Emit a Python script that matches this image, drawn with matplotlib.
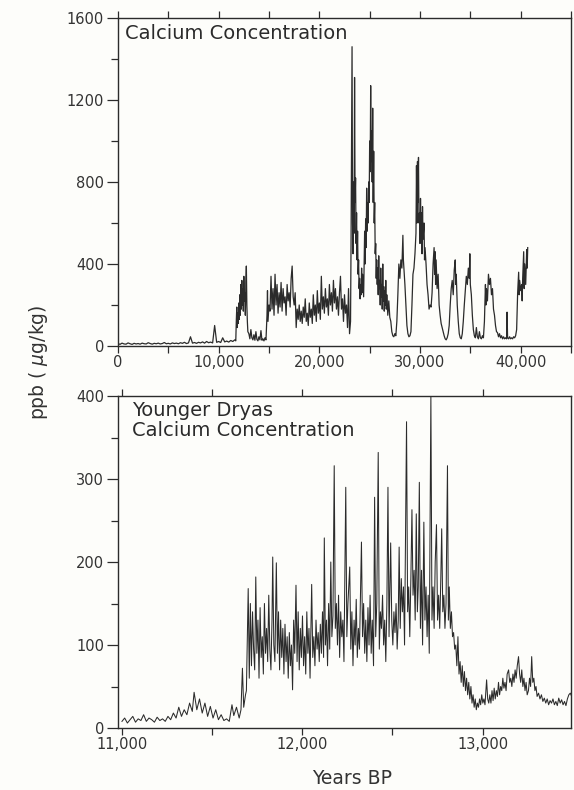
import numpy as np
import matplotlib
matplotlib.use("Agg")
import matplotlib.pyplot as plt
from matplotlib.ticker import MultipleLocator, FuncFormatter

plt.rcParams['font.family'] = ['DejaVu Sans']
plt.rcParams['mathtext.fontset'] = 'dejavusans'

# ── DATA: full record (top panel) ────────────────────────────────────────────
top_age = [
    0, 200, 400, 600, 800, 1000, 1200, 1400, 1600, 1800, 2000, 2200, 2400, 2600, 2800,
    3000, 3200, 3400, 3600, 3800, 4000, 4200, 4400, 4600, 4800, 5000, 5200, 5400, 5600,
    5800, 6000, 6200, 6400, 6600, 6800, 7000, 7200, 7400, 7600, 7800, 8000, 8200, 8400,
    8600, 8800, 9000, 9200, 9400, 9600, 9800, 10000, 10200, 10400, 10600, 10800, 11000,
    11200, 11400, 11600,
    11700, 11750, 11800, 11850, 11900, 11950, 12000, 12050, 12100, 12150, 12200, 12250,
    12300, 12350, 12400, 12450, 12500, 12550, 12600, 12650, 12700, 12750, 12800, 12850, 12900,
    13000, 13100, 13200, 13300, 13400, 13500, 13600, 13700, 13800, 13900, 14000, 14100,
    14200, 14300, 14400, 14500, 14600, 14700,
    14800, 14850, 14900, 15000, 15100, 15200, 15300, 15400, 15500, 15600, 15700, 15800,
    15900, 16000, 16100, 16200, 16300, 16400, 16500, 16600, 16700, 16800, 16900, 17000,
    17100, 17200, 17300, 17400, 17500,
    17600, 17700, 17800, 17900, 18000, 18100, 18200, 18300, 18400, 18500, 18600, 18700,
    18800, 18900, 19000, 19100, 19200, 19300, 19400, 19500, 19600, 19700, 19800, 19900, 20000,
    20100, 20200, 20300, 20400, 20500, 20600, 20700, 20800, 20900, 21000, 21100, 21200,
    21300, 21400, 21500, 21600, 21700, 21800, 21900, 22000, 22100, 22200, 22300, 22400,
    22500, 22600, 22700, 22800, 22900, 23000, 23100,
    23150, 23250, 23300, 23350, 23400, 23450, 23500, 23550, 23600, 23650, 23700, 23750,
    23800, 23850, 23900, 23950, 24000, 24050, 24100, 24150, 24200, 24250, 24300, 24400,
    24500, 24550, 24600, 24650, 24700, 24750, 24800, 24850, 24900, 24950, 25000, 25050,
    25100, 25150, 25200, 25250, 25300, 25350, 25400, 25450, 25500, 25550, 25600, 25650,
    25700, 25750,
    25800, 25850, 25900, 25950, 26000, 26050, 26100, 26150, 26200, 26250, 26300, 26350,
    26400, 26450, 26500, 26550, 26600, 26650, 26700, 26800, 26900, 27000, 27100, 27200,
    27300, 27400, 27500, 27600,
    27700, 27800, 27900, 28000, 28100, 28200, 28300, 28350, 28400, 28500, 28600, 28700,
    28800, 28900, 29000, 29100,
    29200, 29300, 29400, 29500, 29600, 29650, 29700, 29750, 29800, 29850, 29900, 29950,
    30000, 30050, 30100, 30150, 30200, 30250, 30300, 30400, 30450, 30500, 30600, 30700,
    30800, 30900, 31000, 31100, 31200, 31300, 31400, 31450, 31500, 31550, 31600, 31700,
    31800, 31900, 32000, 32100, 32200, 32300, 32400, 32500, 32600, 32700,
    32800, 32900, 33000, 33100, 33200, 33300, 33400, 33500, 33550, 33600, 33700, 33800,
    33900, 34000, 34100, 34200,
    34300, 34400, 34500, 34600, 34700, 34800, 34900, 34950, 35000, 35100, 35200, 35300,
    35400, 35500, 35600, 35700, 35800, 35900, 36000, 36100, 36200, 36300,
    36400, 36500, 36550, 36600, 36700, 36800, 36900, 37000, 37100, 37200, 37300, 37400,
    37500, 37600, 37700, 37800, 37900, 38000, 38100, 38200, 38300, 38400, 38500, 38600,
    38650, 38700, 38800, 38900, 39000, 39100, 39200, 39300, 39400, 39500,
    39600, 39700, 39800, 39850, 39900, 40000, 40100, 40150, 40200, 40300, 40350, 40400,
    40500, 40600, 40650, 40700,
]
top_ca = [
    12, 8, 14, 10, 9, 15, 11, 8, 13, 10, 12, 9, 14, 11, 10,
    16, 12, 9, 13, 11, 14, 10, 12, 17, 11, 13, 10, 15, 12,
    14, 11, 16, 13, 18, 12, 15, 45, 14, 17, 13, 18, 15, 20,
    14, 22, 16, 19, 15, 100, 18, 22, 17, 40, 20, 24, 19,
    27, 22, 30,
    25, 120, 190, 90, 160, 110, 210, 130, 250, 150, 300, 180,
    320, 200, 280, 170, 340, 220, 260, 150, 310, 390, 200, 120, 70,
    60, 35, 80, 40, 30, 55, 28, 70, 32, 25, 45, 30,
    75, 28, 35, 25, 40, 30,
    150, 270, 120, 200, 170, 340, 180, 280, 150, 350, 200, 300,
    160, 260, 190, 310, 170, 280, 210, 240, 150, 300, 220, 260,
    190, 330, 390, 240, 200,
    260, 90, 180, 130, 200, 120, 170, 110, 190, 140, 230, 120,
    160, 100, 210, 140, 180, 110, 250, 150, 200, 120, 270, 160, 210,
    130, 340, 180, 240, 160, 280, 190, 230, 150, 300, 200, 260,
    170, 320, 210, 280, 180, 240, 150, 260, 340, 180, 230, 120,
    250, 160, 200, 90, 280, 60, 120,
    500, 1460, 600, 450, 800, 550, 1310, 700, 820, 500, 650, 420,
    560, 350, 420, 280, 330, 230, 300, 250, 380, 260, 350, 240,
    560, 400, 620, 480, 770, 560, 700, 600, 800, 700, 1000, 850,
    1270, 900, 1050, 800, 1160, 700, 950, 600, 700, 450, 500, 330,
    420, 300,
    380, 250, 440, 280, 320, 200, 380, 240, 300, 180, 400, 220,
    290, 170, 270, 200, 320, 180, 250, 150, 220, 140, 120, 70,
    50, 45, 60, 50,
    120, 250, 400, 330, 420, 380, 540, 420, 380, 300, 200, 100,
    60, 45, 50, 70,
    200, 350, 380, 450, 550, 880, 600, 900, 700, 920, 600, 650,
    500, 720, 550, 650, 450, 680, 520, 600, 420, 480, 400, 300,
    250, 180, 200, 190, 260, 400, 480, 350, 460, 300, 420, 280,
    350, 200, 150, 110, 90, 70, 50, 35, 30, 40,
    60, 100, 200, 280, 320, 250, 370, 420, 300, 350, 200, 120,
    60, 40, 35, 60,
    120, 200, 270, 340, 300, 380, 330, 450, 300, 250, 150, 80,
    50, 40, 90, 45, 35, 70, 40, 35, 50, 40,
    120, 300, 200, 280, 220, 350, 300, 330, 250, 280, 180, 150,
    100, 70, 65, 45, 60, 40, 50, 35, 45, 35, 40, 35,
    165, 40, 35, 45, 35, 40, 35, 45, 40, 50,
    80, 260, 360, 250, 320, 270, 300, 220, 330, 460, 280, 400,
    300, 470, 380, 480,
]

# ── DATA: Younger Dryas detail (bottom panel) ────────────────────────────────
yd_age = [
    11000, 11015, 11030, 11045, 11060, 11075, 11090, 11105, 11120, 11135, 11150, 11165,
    11180, 11195, 11210, 11225, 11240, 11255, 11270, 11285, 11300, 11315, 11330, 11345,
    11360, 11375, 11390, 11400, 11415, 11430, 11445, 11460, 11475, 11490, 11505, 11520,
    11535, 11550, 11565, 11580, 11595, 11610, 11620, 11635, 11650, 11660, 11668, 11675, 11685,
    11690, 11700, 11706, 11712, 11718, 11724, 11730, 11736, 11742, 11748, 11754, 11760,
    11766, 11772, 11778, 11784, 11790, 11796, 11802, 11808, 11814, 11820, 11826, 11832,
    11836, 11842, 11848, 11856, 11862, 11868, 11874, 11880, 11886, 11892, 11898, 11904,
    11910, 11916, 11922, 11928, 11934, 11940, 11946, 11952, 11958, 11965, 11971, 11977,
    11983, 11989, 11995, 12001, 12007, 12013, 12019, 12025, 12031, 12037, 12043, 12052,
    12058, 12064, 12070, 12076, 12082, 12088, 12094, 12100, 12106, 12112, 12118, 12122,
    12128, 12134, 12140, 12146, 12152, 12158, 12164, 12170, 12177, 12183, 12189, 12195,
    12201, 12207, 12213, 12219, 12225, 12231, 12241, 12247, 12253, 12263, 12269, 12275,
    12281, 12287, 12293, 12299, 12305, 12311, 12317, 12328, 12334, 12340, 12346, 12352,
    12358, 12364, 12370, 12376, 12382, 12388, 12395, 12401, 12407, 12413, 12421, 12427,
    12433, 12439, 12445, 12451, 12457, 12463, 12469, 12475, 12481, 12490, 12496, 12502,
    12508, 12514, 12520, 12526, 12532, 12537, 12543, 12549, 12555, 12561, 12567, 12578,
    12584, 12590, 12596, 12602, 12608, 12614, 12620, 12626, 12632, 12638, 12643, 12649,
    12655, 12661, 12667, 12674, 12680, 12686, 12692, 12698, 12704, 12713, 12719, 12725,
    12731, 12737, 12744, 12750, 12756, 12762, 12768, 12773, 12779, 12785, 12791, 12797,
    12805, 12810, 12815, 12821, 12827, 12833, 12839, 12845, 12851,
    12857, 12863, 12869, 12875, 12881, 12887, 12893, 12899, 12905, 12911, 12917, 12923,
    12929, 12935, 12941, 12947, 12953, 12959, 12965, 12971, 12977, 12983, 12989, 12995,
    13001, 13007, 13013, 13022, 13028, 13034, 13040, 13046, 13052, 13058, 13064, 13070,
    13076, 13082, 13088, 13094, 13100, 13106, 13112, 13118, 13124, 13130, 13136, 13144,
    13150, 13156, 13162, 13168, 13174, 13180, 13186, 13192, 13199, 13205, 13211, 13217,
    13223, 13229, 13235, 13241, 13247, 13254, 13260, 13266, 13272, 13278, 13284, 13290,
    13296, 13302, 13310, 13318, 13326, 13334, 13342, 13350, 13358, 13366, 13374, 13382,
    13390, 13398, 13406, 13414, 13422, 13430, 13438, 13446, 13454, 13462, 13470, 13478,
    13486, 13494, 13500,
]
yd_ca = [
    8, 12, 6, 10, 14, 7, 11, 9, 16, 8, 12, 10,
    7, 13, 9, 11, 8, 14, 10, 18, 12, 25, 14, 22,
    16, 30, 20, 43, 22, 35, 18, 30, 14, 26, 12, 22,
    10, 16, 9, 11, 8, 28, 15, 25, 12, 22, 72, 25, 40,
    45, 168, 60, 150, 75, 140, 95, 70, 182, 90, 130, 60,
    145, 85, 110, 65, 150, 90, 120, 80, 160, 95, 70, 130,
    206, 100, 80, 199, 90, 140, 70, 130, 85, 120, 65, 125,
    80, 110, 60, 115, 75, 100, 46, 130, 90, 172, 80, 140,
    70, 120, 85, 135, 75, 110, 65, 140, 90, 120, 60, 173,
    85, 110, 75, 130, 95, 115, 80, 125, 90, 140, 85, 229,
    100, 130, 75, 150, 95, 200, 110, 135, 316, 120, 150, 100,
    160, 85, 140, 110, 130, 80, 290, 110, 150, 194, 95, 140,
    75, 130, 100, 155, 85, 120, 95, 224, 110, 150, 90, 130,
    80, 145, 100, 160, 90, 130, 75, 278, 110, 150, 332, 95,
    140, 120, 160, 100, 130, 80, 150, 290, 110, 223, 130, 100,
    140, 115, 150, 95, 130, 218, 120, 180, 140, 170, 100, 369,
    140, 170, 110, 180, 263, 160, 190, 130, 258, 140, 170, 296,
    120, 190, 100, 248, 130, 170, 110, 160, 90, 400, 130, 170,
    120, 200, 245, 130, 160, 120, 180, 240, 140, 160, 120, 150,
    316, 130, 170, 120, 140, 110, 115, 95, 100,
    75, 110, 65, 80, 55, 75, 50, 68, 45, 60, 40, 55,
    35, 50, 30, 40, 25, 35, 22, 30, 25, 35, 28, 40,
    30, 35, 28, 58, 35, 30, 40, 30, 45, 33, 48, 35,
    45, 38, 55, 40, 50, 45, 60, 48, 55, 45, 65, 70,
    55, 60, 50, 65, 55, 70, 60, 75, 86, 65, 55, 70,
    50, 60, 45, 55, 40, 45, 60, 50, 86, 55, 60, 45,
    50, 38, 42, 35, 40, 32, 36, 30, 35, 28, 33, 30,
    35, 28, 32, 27, 36, 30, 34, 28, 32, 27, 35, 40,
    42, 38, 40,
]

top_ticks = [0, 10000, 20000, 30000, 40000]
yd_ticks = [11000, 12000, 13000]

ink = '#2b2b2b'
fig = plt.figure(figsize=(5.74, 7.90), dpi=100)
fig.patch.set_facecolor('#fdfdfa')

ax1 = fig.add_axes([118/574, 1-346/790, 453/574, 328/790])
ax2 = fig.add_axes([118/574, 1-728/790, 453/574, 332/790])

thousands = FuncFormatter(lambda v, p: f'{int(v):,}')

def style(ax):
    ax.set_facecolor('none')
    for s in ax.spines.values():
        s.set_color(ink)
        s.set_linewidth(1.0)
    ax.tick_params(which='both', direction='out', color=ink, width=0.9,
                   labelsize=10.5, labelcolor='#333333', top=True, right=False)
    ax.tick_params(axis='y', which='major', length=8, pad=2)
    ax.tick_params(axis='y', which='minor', length=5)
    ax.tick_params(axis='x', which='both', length=5, pad=1.5)

ax1.plot(top_age, top_ca, color=ink, lw=0.9)
ax1.set_xlim(0, 45000)
ax1.set_ylim(0, 1600)
ax1.set_xticks(top_ticks)
ax1.xaxis.set_minor_locator(MultipleLocator(5000))
ax1.yaxis.set_major_locator(MultipleLocator(400))
ax1.yaxis.set_minor_locator(MultipleLocator(200))
ax1.xaxis.set_major_formatter(thousands)
style(ax1)
ax1.text(0.0155, 0.982, 'Calcium Concentration', transform=ax1.transAxes,
         fontsize=14, color=ink, va='top', ha='left')

ax2.plot(yd_age, yd_ca, color=ink, lw=0.75)
ax2.set_xlim(10978, 13490)
ax2.set_ylim(0, 400)
ax2.set_xticks(yd_ticks)
ax2.xaxis.set_minor_locator(MultipleLocator(500))
ax2.yaxis.set_major_locator(MultipleLocator(100))
ax2.yaxis.set_minor_locator(MultipleLocator(50))
ax2.xaxis.set_major_formatter(thousands)
style(ax2)
ax2.text(0.031, 0.985, 'Younger Dryas\nCalcium Concentration', transform=ax2.transAxes,
         fontsize=14, color=ink, va='top', ha='left', linespacing=1.1)

fig.text(38/574, 1-362/790, r'ppb ( $\mu$g/kg)', rotation=90, ha='center', va='center',
         fontsize=13.5, color='#333333')
fig.text(352/574, 1-778/790, 'Years BP', ha='center', va='center',
         fontsize=13.5, color='#333333')

fig.savefig('out.png', dpi=100, facecolor=fig.get_facecolor())
